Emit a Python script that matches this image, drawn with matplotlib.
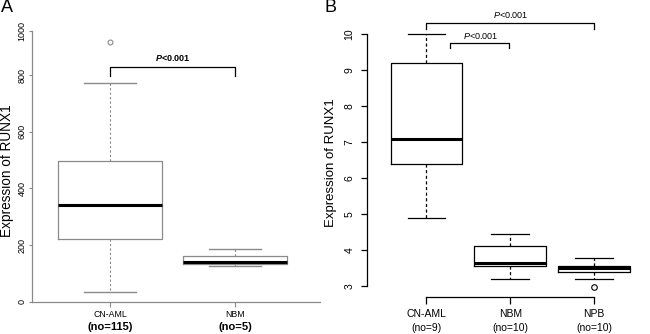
import matplotlib.pyplot as plt

plt.rcParams['font.family'] = ['Liberation Sans', 'DejaVu Sans']
plt.rcParams['mathtext.fontset'] = 'custom'
plt.rcParams['mathtext.rm'] = 'Liberation Sans'
plt.rcParams['mathtext.it'] = 'Liberation Sans:italic'
plt.rcParams['mathtext.bf'] = 'Liberation Sans:bold'
plt.rcParams['mathtext.bfit'] = 'Liberation Sans:italic:bold'

# panel A: whisker low, Q1, median, Q3, whisker high
a_groups = ['CN-AML', 'NBM']
a_counts = ['(no=115)', '(no=5)']
a_stats = [[35, 220, 342, 498, 773], [126, 132, 140, 162, 185]]
a_fliers = [[915], []]
a_ticks = [0, 200, 400, 600, 800, 955]
a_ticklabels = ['0', '200', '400', '600', '800', '1000']

# panel B
b_groups = ['CN-AML', 'NBM', 'NPB']
b_counts = ['(no=9)', '(no=10)', '(no=10)']
b_stats = [[4.89, 6.40, 7.10, 9.20, 10.02],
           [3.18, 3.56, 3.62, 4.10, 4.44],
           [3.19, 3.38, 3.48, 3.55, 3.76]]
b_fliers = [[], [], [2.96]]
b_ticks = [3, 4, 5, 6, 7, 8, 9, 10]


def make_stats(stats, fliers):
    out = []
    for s, f in zip(stats, fliers):
        out.append(dict(whislo=s[0], q1=s[1], med=s[2], q3=s[3], whishi=s[4], fliers=f))
    return out


fig = plt.figure(figsize=(6.5, 3.34), dpi=100)

# ---------- A ----------
gray = '#8a8a8a'
axA = fig.add_axes([32 / 650, (334 - 301.7) / 334, 288 / 650, 283.3 / 334])
axA.bxp(make_stats(a_stats, a_fliers), positions=[1, 2], widths=0.84, capwidths=0.42,
        boxprops=dict(color=gray, lw=0.9),
        whiskerprops=dict(color=gray, lw=0.8, linestyle=(0, (2, 2))),
        capprops=dict(color=gray, lw=1.0),
        medianprops=dict(color='black', lw=2.2),
        flierprops=dict(marker='o', markerfacecolor='none', markeredgecolor=gray,
                        markersize=3.5, markeredgewidth=0.8))
axA.set_xlim(0.376, 2.68)
axA.set_ylim(0, 1000)
for s in ['top', 'right']:
    axA.spines[s].set_visible(False)
for s in ['left', 'bottom']:
    axA.spines[s].set_color(gray)
    axA.spines[s].set_linewidth(0.9)
axA.spines['left'].set_bounds(0, 955)
axA.set_yticks(a_ticks, a_ticklabels, fontsize=6.5, rotation=90, va='center')
axA.tick_params(axis='y', length=2.5, color=gray, pad=1.5)
axA.set_xticks([1, 2], a_groups, fontsize=6.3)
axA.tick_params(axis='x', length=3.5, color=gray, pad=2.4)
for i, c in enumerate(a_counts):
    axA.annotate(c, xy=(i + 1, 0), xycoords=('data', 'axes fraction'),
                 xytext=(0, -18.2), textcoords='offset points',
                 ha='center', va='center', fontsize=8, fontweight='bold')
axA.set_ylabel('Expression of RUNX1', fontsize=9.8)
axA.yaxis.set_label_coords(-0.062, 0.461)
axA.plot([1, 1, 2, 2], [795, 829, 829, 795], color='black', lw=0.9)
axA.text(1.5, 859, r'$\mathbfit{P}$<0.001', ha='center', va='center',
         fontsize=6.5, fontweight='bold')

# ---------- B ----------
axB = fig.add_axes([366.5 / 650, (334 - 297.3) / 334, (645 - 366.5) / 650, 284.4 / 334])
axB.bxp(make_stats(b_stats, b_fliers), positions=[1, 2, 3], widths=0.855, capwidths=0.45,
        boxprops=dict(color='black', lw=0.9),
        whiskerprops=dict(color='black', lw=0.9, linestyle=(0, (2.5, 2))),
        capprops=dict(color='black', lw=0.9),
        medianprops=dict(color='black', lw=2.2),
        flierprops=dict(marker='o', markerfacecolor='none', markeredgecolor='black',
                        markersize=4, markeredgewidth=0.8))
axB.set_xlim(0.286, 3.605)
axB.set_ylim(2.677, 10.6)
for s in ['top', 'right']:
    axB.spines[s].set_visible(False)
axB.spines['left'].set_bounds(3, 10)
axB.spines['bottom'].set_bounds(1, 3)
axB.spines['left'].set_linewidth(0.9)
axB.spines['bottom'].set_linewidth(0.9)
axB.set_yticks(b_ticks, [str(t) for t in b_ticks], fontsize=7.5, rotation=90, va='center')
axB.tick_params(axis='y', length=4.3, width=0.9, pad=4.5)
axB.set_xticks([1, 2, 3], b_groups, fontsize=7.5)
axB.tick_params(axis='x', length=5, width=0.9, pad=3.4)
for i, c in enumerate(b_counts):
    axB.annotate(c, xy=(i + 1, 0), xycoords=('data', 'axes fraction'),
                 xytext=(0, -21.9), textcoords='offset points',
                 ha='center', va='center', fontsize=7.5)
axB.set_ylabel('Expression of RUNX1', fontsize=9.5)
axB.yaxis.set_label_coords(-0.105, 0.472)
axB.plot([1, 1, 3, 3], [10.15, 10.31, 10.31, 10.15], color='black', lw=0.9, clip_on=False)
axB.text(2.0, 10.54, r'$\mathit{P}$<0.001', ha='center', va='center', fontsize=6.5)
axB.plot([1.28, 1.28, 1.98, 1.98], [9.61, 9.77, 9.77, 9.61], color='black', lw=0.9)
axB.text(1.65, 9.95, r'$\mathit{P}$<0.001', ha='center', va='center', fontsize=6.5)

fig.text(1 / 650, 1 - 8 / 334, 'A', fontsize=13, va='center', ha='left')
fig.text(324 / 650, 1 - 8 / 334, 'B', fontsize=13, va='center', ha='left')

fig.savefig('out.png', dpi=100)
